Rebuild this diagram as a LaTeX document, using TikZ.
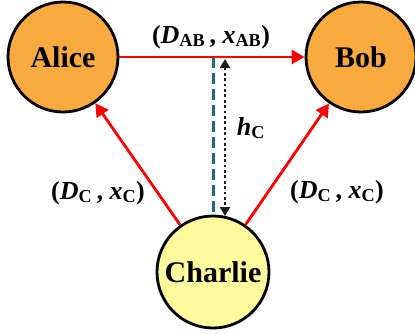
\documentclass[tikz,border=0pt]{standalone}
\usepackage{fontspec}
\setmainfont{Liberation Serif}
\usepackage{tikz}
\usetikzlibrary{arrows.meta, positioning, calc}
\definecolor{myorange}{RGB}{248,170,62}
\definecolor{myyellow}{RGB}{255,250,155}
\definecolor{myred}{RGB}{255,0,0}
\definecolor{myteal}{RGB}{30,105,140}
\definecolor{mydark}{RGB}{30,30,30}
\tikzset{
  party/.style={circle, draw=black, fill=myorange,
    minimum size=110pt, inner sep=0pt, line width=2.8pt,
    font=\fontsize{30}{33}\selectfont\bfseries},
  helper/.style={party, fill=myyellow, minimum size=112pt},
  lbl/.style={font=\fontsize{26}{30}\selectfont\bfseries, inner sep=1pt},
  redarrow/.style={-{Triangle[length=13pt,width=14pt]}, line width=2.8pt, color=myred},
  tealdash/.style={line width=3pt, color=myteal, dash pattern=on 11pt off 5pt},
  dotarrow/.style={{Triangle[length=9pt,width=10pt]}-{Triangle[length=9pt,width=10pt]},
    line width=2.8pt, color=mydark, dash pattern=on 2.8pt off 2.6pt}
}
\newcommand{\pair}[1]{(\textit{D}\textsubscript{#1}\,, \textit{x}\textsubscript{#1})}

\begin{document}
\begin{tikzpicture}[x=1pt, y=-1pt]
  \useasboundingbox (0,0) rectangle (415,333);
  \node[party] (alice) at (63,57) {Alice};
  \node[party] (bob) at (361,57) {Bob};
  \node[helper] (charlie) at (213,272) {Charlie};

  \coordinate (dtop) at (213,57);
  \coordinate (htop) at (225,59);
  \coordinate (hbot) at (225,216);

  \draw[tealdash] (dtop) -- (charlie.north);
  \draw[dotarrow] (htop) -- (hbot);

  \draw[redarrow] (alice) -- (bob);
  \draw[redarrow] (charlie) -- (alice);
  \draw[redarrow] (charlie) -- (bob);

  \node[lbl] (ab) at (211,37) {\pair{AB}};
  \node[lbl] (lc) at (98,193) {\pair{C}};
  \node[lbl] (rc) at (337,192) {\pair{C}};
  \node[lbl] (hc) at (251,128) {\textit{h}\textsubscript{C}};
\end{tikzpicture}
\end{document}
